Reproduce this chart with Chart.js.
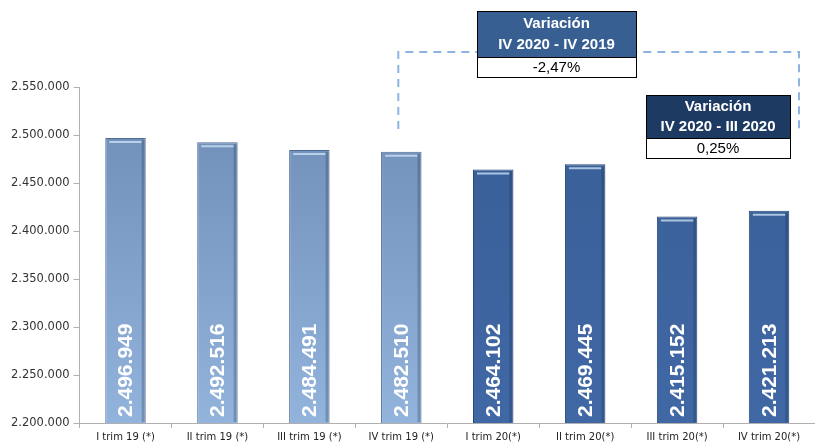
<!DOCTYPE html>
<html>
<head>
<meta charset="utf-8">
<script src="https://cdn.jsdelivr.net/npm/chart.js@4"></script>
<style>
  html, body { margin: 0; padding: 0; background: #fff; overflow: hidden; }
  #wrap { width: 815px; height: 443px; }
</style>
</head>
<body>
<div id="wrap"><canvas id="chart"></canvas></div>
<script>
// Datos del gráfico
const trimestres = ['I trim 19 (*)', 'II trim 19 (*)', 'III trim 19 (*)', 'IV trim 19 (*)',
                    'I trim 20(*)', 'II trim 20(*)', 'III trim 20(*)', 'IV trim 20(*)'];
const valores = [2496949, 2492516, 2484491, 2482510, 2464102, 2469445, 2415152, 2421213];
const yMin = 2200000;
const yMax = 2550000;
const yPaso = 50000;
const variacionTitulos = [['Variación', 'IV 2020 - IV 2019'], ['Variación', 'IV 2020 - III 2020']];
const variacionValores = ['-2,47%', '0,25%'];

function miles(n) {
    return String(n).replace(/\B(?=(\d{3})+(?!\d))/g, '.');
}

// Degradado vertical de las barras (2019 más claras, 2020 más oscuras)
function colorBarra(context) {
    const chart = context.chart;
    const area = chart.chartArea;
    const es2019 = context.dataIndex < 4;
    if (!area) return es2019 ? '#7f9ec6' : '#3d64a0';
    const g = chart.ctx.createLinearGradient(0, area.top, 0, area.bottom);
    if (es2019) {
        g.addColorStop(0, '#6d8cb5');
        g.addColorStop(1, '#92b3dc');
    } else {
        g.addColorStop(0, '#395e96');
        g.addColorStop(1, '#4068a5');
    }
    return g;
}

// Relieve superior y etiquetas de valor dentro de las barras
const barrasPlugin = {
    id: 'barras',
    afterDatasetsDraw(chart) {
        const ctx = chart.ctx;
        const bottom = chart.chartArea.bottom;
        const meta = chart.getDatasetMeta(0);
        meta.data.forEach((bar, i) => {
            const left = bar.x - bar.width / 2;
            ctx.save();
            ctx.strokeStyle = 'rgba(210,228,250,0.75)';
            ctx.lineWidth = 2;
            ctx.beginPath();
            ctx.moveTo(left + 4, bar.y + 4);
            ctx.lineTo(left + bar.width - 4, bar.y + 4);
            ctx.stroke();
            ctx.fillStyle = 'rgba(20,40,70,0.25)';
            ctx.fillRect(left + bar.width - 4, bar.y + 2, 3, bottom - bar.y - 3);

            ctx.translate(bar.x + 1, bottom - 6);
            ctx.rotate(-Math.PI / 2);
            ctx.fillStyle = '#ffffff';
            ctx.font = 'bold 21px "Liberation Sans", Arial, sans-serif';
            ctx.textAlign = 'left';
            ctx.textBaseline = 'middle';
            ctx.fillText(miles(chart.data.datasets[0].data[i]), 0, 0);
            ctx.restore();
        });
    }
};

// Cuadros de variación y línea discontinua
const variacionPlugin = {
    id: 'variacion',
    afterDraw(chart) {
        const ctx = chart.ctx;
        const xs = chart.scales.x;
        const x1 = xs.getPixelForValue(3) - 3;
        const x2 = xs.getPixelForValue(7) + 30;
        ctx.save();
        ctx.strokeStyle = '#8db3e2';
        ctx.lineWidth = 2;
        ctx.setLineDash([8, 6]);
        ctx.beginPath();
        ctx.moveTo(x1, 129);
        ctx.lineTo(x1, 52);
        ctx.lineTo(x2, 52);
        ctx.lineTo(x2, 129);
        ctx.stroke();
        ctx.setLineDash([]);

        const cajas = [
            { x: 477, y: 11, w: 159, h1: 46, h2: 20, color: '#385f92' },
            { x: 646, y: 95, w: 144, h1: 43, h2: 20, color: '#1d3a62' }
        ];
        cajas.forEach((c, i) => {
            ctx.fillStyle = c.color;
            ctx.fillRect(c.x, c.y, c.w, c.h1);
            ctx.fillStyle = '#ffffff';
            ctx.fillRect(c.x, c.y + c.h1, c.w, c.h2);
            ctx.strokeStyle = '#000000';
            ctx.lineWidth = 1;
            ctx.strokeRect(c.x + 0.5, c.y + 0.5, c.w, c.h1 + c.h2);
            ctx.beginPath();
            ctx.moveTo(c.x, c.y + c.h1 + 0.5);
            ctx.lineTo(c.x + c.w, c.y + c.h1 + 0.5);
            ctx.stroke();

            ctx.textAlign = 'center';
            ctx.textBaseline = 'middle';
            ctx.fillStyle = '#ffffff';
            ctx.font = 'bold 15px "Liberation Sans", Arial, sans-serif';
            const cx = c.x + c.w / 2;
            ctx.fillText(variacionTitulos[i][0], cx, c.y + c.h1 * 0.27);
            ctx.fillText(variacionTitulos[i][1], cx, c.y + c.h1 * 0.74);
            ctx.fillStyle = '#000000';
            ctx.font = '15px "Liberation Sans", Arial, sans-serif';
            ctx.fillText(variacionValores[i], cx, c.y + c.h1 + c.h2 / 2 + 1);
        });
        ctx.restore();
    }
};

new Chart(document.getElementById('chart'), {
    type: 'bar',
    data: {
        labels: trimestres,
        datasets: [{
            data: valores,
            backgroundColor: colorBarra,
            borderColor: (c) => c.dataIndex < 4 ? '#4d6a92' : '#2a4876',
            borderWidth: 1,
            categoryPercentage: 1,
            barPercentage: 0.44
        }]
    },
    options: {
        responsive: true,
        maintainAspectRatio: false,
        animation: false,
        layout: { padding: { top: 87, left: 7, right: 0, bottom: -3 } },
        plugins: {
            legend: { display: false },
            tooltip: { enabled: false }
        },
        scales: {
            x: {
                grid: {
                    display: true,
                    drawOnChartArea: false,
                    tickLength: 5,
                    color: '#b0b0b0'
                },
                border: { color: '#b0b0b0' },
                ticks: {
                    color: '#222',
                    padding: 3,
                    maxRotation: 0,
                    font: { family: '"DejaVu Sans", sans-serif', size: 10 }
                }
            },
            y: {
                min: yMin,
                max: yMax,
                grid: {
                    display: true,
                    drawOnChartArea: false,
                    tickLength: 6,
                    color: '#b0b0b0'
                },
                border: { color: '#b0b0b0' },
                ticks: {
                    stepSize: yPaso,
                    color: '#333',
                    padding: 4,
                    font: { family: '"DejaVu Sans", sans-serif', size: 11.5 },
                    callback: (v) => miles(v)
                }
            }
        }
    },
    plugins: [barrasPlugin, variacionPlugin]
});
</script>
</body>
</html>
